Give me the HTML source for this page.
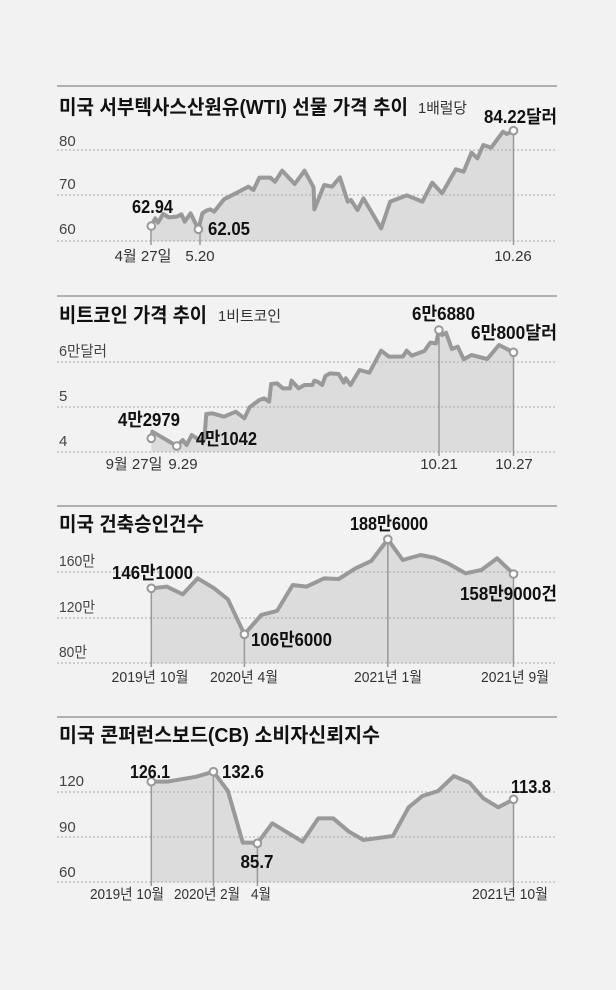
<!DOCTYPE html>
<html><head><meta charset="utf-8"><style>
html,body{margin:0;padding:0;background:#f2f2f2;}
svg{display:block}
.t{font-family:"Liberation Sans","Noto Sans CJK KR",sans-serif;font-weight:bold;font-size:20px;fill:#111}
.s{font-family:"Liberation Sans Narrow","Liberation Sans","Noto Sans CJK KR",sans-serif;font-size:15px;fill:#333}
.y{font-family:"Liberation Sans Narrow","Liberation Sans","Noto Sans CJK KR",sans-serif;font-size:15px;fill:#444}
.d{font-family:"Liberation Sans Narrow","Liberation Sans","Noto Sans CJK KR",sans-serif;font-weight:bold;font-size:18px;fill:#111}
.g{stroke:#aaa;stroke-width:1;stroke-dasharray:2 2}
.ln{fill:none;stroke:#999;stroke-width:4;stroke-linejoin:round;vector-effect:non-scaling-stroke}
.fl{fill:#dcdcdc;stroke:none}
.c{fill:#fff;stroke:#999;stroke-width:2}
.r{stroke:#999;stroke-width:1.5}
</style></head><body>
<svg width="616" height="990" viewBox="0 0 616 990" xmlns="http://www.w3.org/2000/svg">
<rect width="616" height="990" fill="#f2f2f2"/>

<!-- Chart 1 -->
<line class="r" x1="57" y1="86" x2="557" y2="86"/>
<text class="t" x="59" y="114" textLength="349" lengthAdjust="spacingAndGlyphs">미국 서부텍사스산원유(WTI) 선물 가격 추이</text>
<text class="s" x="418" y="113" textLength="49" lengthAdjust="spacingAndGlyphs">1배럴당</text>
<g transform="translate(0,80) scale(0.39293,0.33333)">
<polygon class="fl" points="385,483 385,438 395,415 402,428 415,402 430,412 450,410 462,403 470,425 485,400 505,448 515,400 525,392 535,388 545,395 570,358 600,340 632,320 645,330 660,293 688,293 700,305 718,272 750,312 775,272 798,322 800,388 825,315 845,320 865,292 885,365 893,360 910,390 925,355 970,445 993,365 1035,346 1075,365 1100,308 1125,340 1160,268 1180,275 1200,218 1215,235 1230,195 1250,203 1280,155 1290,162 1307,152 1307,483"/>
</g>
<line class="g" x1="57" y1="150" x2="557" y2="150"/>
<line class="g" x1="57" y1="195" x2="557" y2="195"/>
<line class="g" x1="57" y1="241" x2="557" y2="241"/>
<g transform="translate(0,80) scale(0.39293,0.33333)">
<polyline class="ln" points="385,438 395,415 402,428 415,402 430,412 450,410 462,403 470,425 485,400 505,448 515,400 525,392 535,388 545,395 570,358 600,340 632,320 645,330 660,293 688,293 700,305 718,272 750,312 775,272 798,322 800,388 825,315 845,320 865,292 885,365 893,360 910,390 925,355 970,445 993,365 1035,346 1075,365 1100,308 1125,340 1160,268 1180,275 1200,218 1215,235 1230,195 1250,203 1280,155 1290,162 1307,152"/>
</g>
<line class="r" x1="200" y1="229" x2="200" y2="245"/><line class="r" x1="151" y1="226" x2="151" y2="245"/><line class="r" x1="513.5" y1="131" x2="513.5" y2="245"/>
<circle class="c" cx="151.3" cy="226" r="3.8"/><circle class="c" cx="198.4" cy="229.3" r="3.8"/><circle class="c" cx="513.5" cy="130.7" r="3.8"/>
<text class="y" x="59" y="146">80</text><text class="y" x="59" y="189">70</text><text class="y" x="59" y="234">60</text>
<text class="d" x="132" y="213" textLength="41" lengthAdjust="spacingAndGlyphs">62.94</text>
<text class="d" x="208" y="235" textLength="42" lengthAdjust="spacingAndGlyphs">62.05</text>
<text class="d" x="484" y="123" textLength="73" lengthAdjust="spacingAndGlyphs">84.22달러</text>
<text class="s" x="143" y="261" text-anchor="middle">4월 27일</text>
<text class="s" x="200" y="261" text-anchor="middle">5.20</text>
<text class="s" x="513" y="261" text-anchor="middle">10.26</text>

<!-- Chart 2 -->
<line class="r" x1="57" y1="296" x2="557" y2="296"/>
<text class="t" x="59" y="322" textLength="148" lengthAdjust="spacingAndGlyphs">비트코인 가격 추이</text>
<text class="s" x="218" y="321" textLength="63" lengthAdjust="spacingAndGlyphs">1비트코인</text>
<g transform="translate(0,290) scale(0.39293,0.33333)">
<polygon class="fl" points="385,485 385,445 388,425 450,468 465,450 475,465 488,435 505,448 520,448 525,372 540,370 570,380 600,365 622,385 635,352 660,330 672,325 685,335 690,282 705,280 720,295 738,295 742,272 760,295 775,285 795,285 800,272 808,275 820,285 828,258 840,250 862,252 875,278 880,265 892,285 915,240 940,248 970,182 990,200 1025,200 1035,182 1048,197 1080,183 1095,158 1110,160 1117,120 1125,135 1135,128 1150,177 1165,170 1180,208 1200,195 1240,207 1270,165 1307,187 1307,485"/>
</g>
<line class="g" x1="57" y1="362" x2="557" y2="362"/>
<line class="g" x1="57" y1="407" x2="557" y2="407"/>
<line class="g" x1="57" y1="452" x2="557" y2="452"/>
<g transform="translate(0,290) scale(0.39293,0.33333)">
<polyline class="ln" points="385,445 388,425 450,468 465,450 475,465 488,435 505,448 520,448 525,372 540,370 570,380 600,365 622,385 635,352 660,330 672,325 685,335 690,282 705,280 720,295 738,295 742,272 760,295 775,285 795,285 800,272 808,275 820,285 828,258 840,250 862,252 875,278 880,265 892,285 915,240 940,248 970,182 990,200 1025,200 1035,182 1048,197 1080,183 1095,158 1110,160 1117,120 1125,135 1135,128 1150,177 1165,170 1180,208 1200,195 1240,207 1270,165 1307,187"/>
</g>
<line class="r" x1="439" y1="330" x2="439" y2="456"/><line class="r" x1="513.5" y1="352" x2="513.5" y2="456"/>
<circle class="c" cx="151.3" cy="438.3" r="3.8"/><circle class="c" cx="176.8" cy="446" r="3.8"/><circle class="c" cx="438.9" cy="330" r="3.8"/><circle class="c" cx="513.5" cy="352.3" r="3.8"/>
<text class="y" x="59" y="356" textLength="48" lengthAdjust="spacingAndGlyphs">6만달러</text><text class="y" x="59" y="401">5</text><text class="y" x="59" y="446">4</text>
<text class="d" x="118" y="426" textLength="62" lengthAdjust="spacingAndGlyphs">4만2979</text>
<text class="d" x="196" y="445" textLength="61" lengthAdjust="spacingAndGlyphs">4만1042</text>
<text class="d" x="412" y="320" textLength="63" lengthAdjust="spacingAndGlyphs">6만6880</text>
<text class="d" x="471" y="339" textLength="86" lengthAdjust="spacingAndGlyphs">6만800달러</text>
<text class="s" x="134" y="469" text-anchor="middle">9월 27일</text>
<text class="s" x="183" y="469" text-anchor="middle">9.29</text>
<text class="s" x="439" y="469" text-anchor="middle">10.21</text>
<text class="s" x="514" y="469" text-anchor="middle">10.27</text>

<!-- Chart 3 -->
<line class="r" x1="57" y1="506" x2="557" y2="506"/>
<text class="t" x="59" y="531" textLength="145" lengthAdjust="spacingAndGlyphs">미국 건축승인건수</text>
<g transform="translate(0,500) scale(0.39293,0.33333)">
<polygon class="fl" points="385,490 385,265 425,260 465,283 503,235 545,265 580,298 622,403 665,345 705,333 745,255 780,260 825,235 862,237 905,205 945,183 987,118 1025,180 1070,165 1105,173 1140,190 1185,220 1225,210 1265,175 1307,222 1307,490"/>
</g>
<line class="g" x1="57" y1="572" x2="557" y2="572"/>
<line class="g" x1="57" y1="618" x2="557" y2="618"/>
<line class="g" x1="57" y1="663" x2="557" y2="663"/>
<g transform="translate(0,500) scale(0.39293,0.33333)">
<polyline class="ln" points="385,265 425,260 465,283 503,235 545,265 580,298 622,403 665,345 705,333 745,255 780,260 825,235 862,237 905,205 945,183 987,118 1025,180 1070,165 1105,173 1140,190 1185,220 1225,210 1265,175 1307,222"/>
</g>
<line class="r" x1="244.4" y1="634" x2="244.4" y2="667"/><line class="r" x1="387.8" y1="540" x2="387.8" y2="667"/><line class="r" x1="151.3" y1="588" x2="151.3" y2="667"/><line class="r" x1="513.5" y1="574" x2="513.5" y2="667"/>
<circle class="c" cx="151.3" cy="588.3" r="3.8"/><circle class="c" cx="244.4" cy="634.3" r="3.8"/><circle class="c" cx="387.8" cy="539.3" r="3.8"/><circle class="c" cx="513.5" cy="574" r="3.8"/>
<text class="y" x="59" y="566" textLength="36" lengthAdjust="spacingAndGlyphs">160만</text><text class="y" x="59" y="612" textLength="36" lengthAdjust="spacingAndGlyphs">120만</text><text class="y" x="59" y="657" textLength="28" lengthAdjust="spacingAndGlyphs">80만</text>
<text class="d" x="112" y="579" textLength="81" lengthAdjust="spacingAndGlyphs">146만1000</text>
<text class="d" x="251" y="646" textLength="81" lengthAdjust="spacingAndGlyphs">106만6000</text>
<text class="d" x="350" y="530" textLength="78" lengthAdjust="spacingAndGlyphs">188만6000</text>
<text class="d" x="460" y="600" textLength="97" lengthAdjust="spacingAndGlyphs">158만9000건</text>
<text class="s" x="150" y="682" text-anchor="middle" textLength="77" lengthAdjust="spacingAndGlyphs">2019년 10월</text>
<text class="s" x="244" y="682" text-anchor="middle" textLength="68" lengthAdjust="spacingAndGlyphs">2020년 4월</text>
<text class="s" x="388" y="682" text-anchor="middle" textLength="68" lengthAdjust="spacingAndGlyphs">2021년 1월</text>
<text class="s" x="515" y="682" text-anchor="middle" textLength="68" lengthAdjust="spacingAndGlyphs">2021년 9월</text>

<!-- Chart 4 -->
<line class="r" x1="57" y1="717" x2="557" y2="717"/>
<text class="t" x="59" y="742" textLength="321" lengthAdjust="spacingAndGlyphs">미국  콘퍼런스보드(CB) 소비자신뢰지수</text>
<g transform="translate(0,710) scale(0.39293,0.33333)">
<polygon class="fl" points="385,517 385,215 425,215 500,200 543,185 580,243 618,398 640,398 655,400 693,340 770,395 810,325 848,325 888,365 925,390 1000,378 1040,292 1075,258 1115,243 1155,198 1195,218 1230,265 1268,292 1307,268 1307,517"/>
</g>
<line class="g" x1="57" y1="792" x2="557" y2="792"/>
<line class="g" x1="57" y1="837" x2="557" y2="837"/>
<line class="g" x1="57" y1="882" x2="557" y2="882"/>
<g transform="translate(0,710) scale(0.39293,0.33333)">
<polyline class="ln" points="385,215 425,215 500,200 543,185 580,243 618,398 640,398 655,400 693,340 770,395 810,325 848,325 888,365 925,390 1000,378 1040,292 1075,258 1115,243 1155,198 1195,218 1230,265 1268,292 1307,268"/>
</g>
<line class="r" x1="213.4" y1="772" x2="213.4" y2="886"/><line class="r" x1="257.4" y1="843" x2="257.4" y2="886"/><line class="r" x1="151.3" y1="782" x2="151.3" y2="886"/><line class="r" x1="513.5" y1="800" x2="513.5" y2="886"/>
<circle class="c" cx="151.3" cy="781.7" r="3.8"/><circle class="c" cx="213.4" cy="771.7" r="3.8"/><circle class="c" cx="257.4" cy="843.3" r="3.8"/><circle class="c" cx="513.5" cy="799.3" r="3.8"/>
<text class="y" x="59" y="786">120</text><text class="y" x="59" y="832">90</text><text class="y" x="59" y="877">60</text>
<text class="d" x="130" y="778" textLength="40" lengthAdjust="spacingAndGlyphs">126.1</text>
<text class="d" x="222" y="778" textLength="42" lengthAdjust="spacingAndGlyphs">132.6</text>
<text class="d" x="257" y="868" text-anchor="middle" textLength="33" lengthAdjust="spacingAndGlyphs">85.7</text>
<text class="d" x="511" y="793" textLength="40" lengthAdjust="spacingAndGlyphs">113.8</text>
<text class="s" x="127" y="899" text-anchor="middle" textLength="74" lengthAdjust="spacingAndGlyphs">2019년 10월</text>
<text class="s" x="207" y="899" text-anchor="middle" textLength="66" lengthAdjust="spacingAndGlyphs">2020년 2월</text>
<text class="s" x="261" y="899" text-anchor="middle" textLength="20" lengthAdjust="spacingAndGlyphs">4월</text>
<text class="s" x="510" y="899" text-anchor="middle" textLength="76" lengthAdjust="spacingAndGlyphs">2021년 10월</text>
</svg>
</body></html>
